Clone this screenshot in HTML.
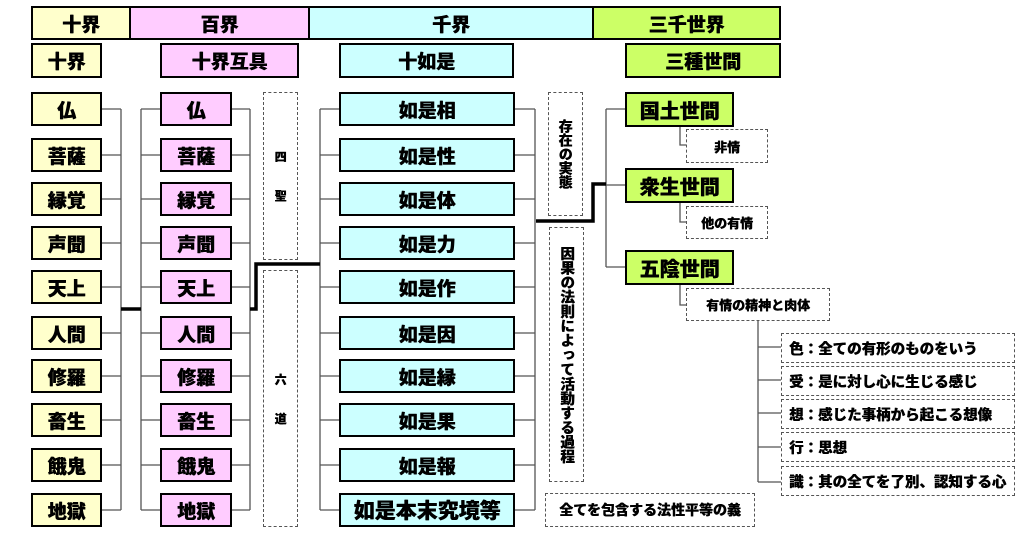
<!DOCTYPE html>
<html><head><meta charset="utf-8"><style>
body{margin:0;width:1024px;height:537px;background:#fff;position:relative;overflow:hidden;font-family:"Liberation Sans","Noto Sans CJK JP",sans-serif;font-weight:bold;}
.b{position:absolute;box-sizing:border-box;border:2.5px solid #000;display:flex;align-items:center;justify-content:center;font-size:19px;font-weight:900;color:#000;text-shadow:0.5px 0 0 #000;}
.y{background:#ffffcc}.p{background:#ffccff}.c{background:#ccffff}.g{background:#ccff66}
.d{position:absolute;box-sizing:border-box;border:1px dashed #555;display:flex;align-items:center;justify-content:center;font-size:13px;font-weight:900;background:#fff;text-shadow:0.4px 0 0 #000;}
.v{writing-mode:vertical-rl;text-orientation:upright;}
.l{justify-content:flex-start;padding-left:7px;font-size:14.5px;}
svg{position:absolute;left:0;top:0}
</style></head><body>
<svg width="1024" height="537">
<g stroke="#555" stroke-width="1.3" fill="none">
<path d="M101 109H121M101 155H121M101 199H121M101 243H121M101 287H121M101 333H121M101 376H121M101 420H121M101 465H121M101 510H121M121 109V510"/>
<path d="M141 109H161M141 155H161M141 199H161M141 243H161M141 287H161M141 333H161M141 376H161M141 420H161M141 465H161M141 510H161M141 109V510"/>
<path d="M231 109H250M231 155H250M231 199H250M231 243H250M231 287H250M231 333H250M231 376H250M231 420H250M231 465H250M231 510H250M250 109V510"/>
<path d="M320 109H340M320 155H340M320 199H340M320 243H340M320 287H340M320 333H340M320 376H340M320 420H340M320 465H340M320 510H340M320 109V510"/>
<path d="M514 109H535M514 155H535M514 199H535M514 243H535M514 287H535M514 333H535M514 376H535M514 420H535M514 465H535M514 510H535M535 109V510"/>
<path d="M606 109H626M606 185H626M606 267H626M606 109V267"/>
<path d="M680 126V145H686M680 202V222H686M680 284V305H686"/>
<path d="M758 320V482M758 347H781M758 380H781M758 413H781M758 447H781M758 482H781"/>
</g>
<g stroke="#000" stroke-width="3.5" fill="none">
<path d="M121 309H141"/>
<path d="M250 309H256V264H320"/>
<path d="M536 221H593V184H606"/>
</g>
</svg>
<div class="b y" style="left:31px;top:6px;width:100px;height:34px">十界</div>
<div class="b p" style="left:129px;top:6px;width:181px;height:34px">百界</div>
<div class="b c" style="left:308px;top:6px;width:286px;height:34px">千界</div>
<div class="b g" style="left:592px;top:6px;width:189px;height:34px">三千世界</div>
<div class="b y" style="left:31px;top:43px;width:71px;height:35px">十界</div>
<div class="b p" style="left:160px;top:43px;width:139px;height:35px">十界互具</div>
<div class="b c" style="left:339px;top:43px;width:175px;height:35px">十如是</div>
<div class="b g" style="left:625px;top:43px;width:156px;height:35px">三種世間</div>

<div class="b y" style="left:31px;top:92px;width:71px;height:34px">仏</div>
<div class="b y" style="left:31px;top:138px;width:71px;height:34px">菩薩</div>
<div class="b y" style="left:31px;top:182px;width:71px;height:34px">縁覚</div>
<div class="b y" style="left:31px;top:226px;width:71px;height:34px">声聞</div>
<div class="b y" style="left:31px;top:270px;width:71px;height:34px">天上</div>
<div class="b y" style="left:31px;top:316px;width:71px;height:34px">人間</div>
<div class="b y" style="left:31px;top:359px;width:71px;height:34px">修羅</div>
<div class="b y" style="left:31px;top:403px;width:71px;height:34px">畜生</div>
<div class="b y" style="left:31px;top:448px;width:71px;height:34px">餓鬼</div>
<div class="b y" style="left:31px;top:493px;width:71px;height:34px">地獄</div>

<div class="b p" style="left:160px;top:92px;width:72px;height:34px">仏</div>
<div class="b p" style="left:160px;top:138px;width:72px;height:34px">菩薩</div>
<div class="b p" style="left:160px;top:182px;width:72px;height:34px">縁覚</div>
<div class="b p" style="left:160px;top:226px;width:72px;height:34px">声聞</div>
<div class="b p" style="left:160px;top:270px;width:72px;height:34px">天上</div>
<div class="b p" style="left:160px;top:316px;width:72px;height:34px">人間</div>
<div class="b p" style="left:160px;top:359px;width:72px;height:34px">修羅</div>
<div class="b p" style="left:160px;top:403px;width:72px;height:34px">畜生</div>
<div class="b p" style="left:160px;top:448px;width:72px;height:34px">餓鬼</div>
<div class="b p" style="left:160px;top:493px;width:72px;height:34px">地獄</div>

<div class="b c" style="left:339px;top:92px;width:176px;height:34px">如是相</div>
<div class="b c" style="left:339px;top:138px;width:176px;height:34px">如是性</div>
<div class="b c" style="left:339px;top:182px;width:176px;height:34px">如是体</div>
<div class="b c" style="left:339px;top:226px;width:176px;height:34px">如是力</div>
<div class="b c" style="left:339px;top:270px;width:176px;height:34px">如是作</div>
<div class="b c" style="left:339px;top:316px;width:176px;height:34px">如是因</div>
<div class="b c" style="left:339px;top:359px;width:176px;height:34px">如是縁</div>
<div class="b c" style="left:339px;top:403px;width:176px;height:34px">如是果</div>
<div class="b c" style="left:339px;top:448px;width:176px;height:34px">如是報</div>
<div class="b c" style="left:339px;top:493px;width:176px;height:34px;font-size:21px">如是本末究境等</div>

<div class="d" style="left:263px;top:92px;width:35px;height:168px;font-size:12px;flex-direction:column"><span>四</span><span style="margin-top:22px">聖</span></div>
<div class="d" style="left:263px;top:270px;width:35px;height:257px;font-size:12px;flex-direction:column"><span>六</span><span style="margin-top:22px">道</span></div>
<div class="d v" style="left:548px;top:92px;width:35px;height:124px;font-size:14px">存在の実態</div>
<div class="d v" style="left:549px;top:227px;width:35px;height:255px;font-size:14.5px">因果の法則によって活動する過程</div>

<div class="b g" style="left:625px;top:92px;width:109px;height:35px;font-size:20px">国土世間</div>
<div class="b g" style="left:625px;top:168px;width:109px;height:35px;font-size:20px">衆生世間</div>
<div class="b g" style="left:625px;top:250px;width:109px;height:35px;font-size:20px">五陰世間</div>
<div class="d" style="left:686px;top:129px;width:82px;height:34px">非情</div>
<div class="d" style="left:686px;top:206px;width:82px;height:33px">他の有情</div>
<div class="d" style="left:686px;top:288px;width:144px;height:33px">有情の精神と肉体</div>

<div class="d l" style="left:781px;top:333px;width:234px;height:30px">色：全ての有形のものをいう</div>
<div class="d l" style="left:781px;top:366px;width:234px;height:30px">受：是に対し心に生じる感じ</div>
<div class="d l" style="left:781px;top:399px;width:234px;height:30px">想：感じた事柄から起こる想像</div>
<div class="d l" style="left:781px;top:432px;width:234px;height:30px">行：思想</div>
<div class="d l" style="left:781px;top:466px;width:234px;height:30px">識：其の全てを了別、認知する心</div>
<div class="d" style="left:545px;top:493px;width:210px;height:34px;font-size:14px">全てを包含する法性平等の義</div>
</body></html>
